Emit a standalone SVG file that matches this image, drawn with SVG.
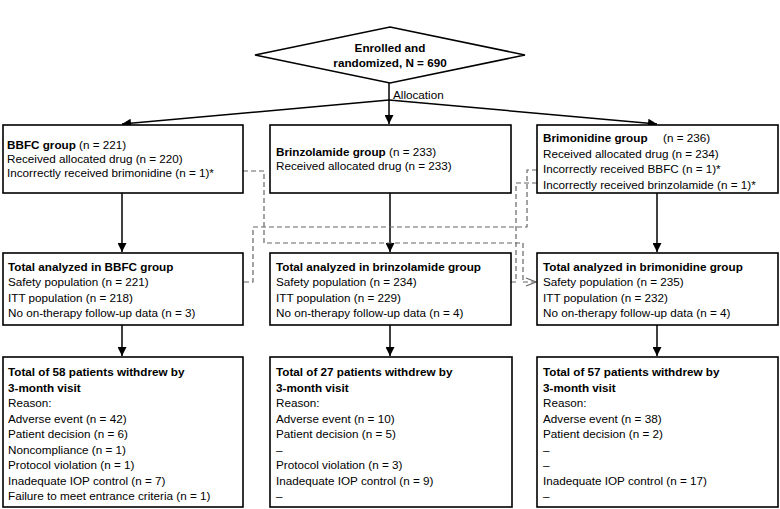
<svg xmlns="http://www.w3.org/2000/svg" width="780" height="509" viewBox="0 0 780 509">
<style>
text{font-family:"Liberation Sans",Arial,sans-serif;font-size:11.7px;fill:#000}
.b{font-weight:bold}
.box{fill:#fff;stroke:#000;stroke-width:1.6}
.arr{fill:none;stroke:#000;stroke-width:1.5;marker-end:url(#ah)}
.dash{fill:none;stroke:#666;stroke-width:1.2;stroke-dasharray:5,3}
.dashA{fill:none;stroke:#666;stroke-width:1.2;stroke-dasharray:5,3;marker-end:url(#oh)}
</style>
<defs>
<marker id="ah" viewBox="0 0 10 10" refX="10" refY="5" markerWidth="9" markerHeight="9" markerUnits="userSpaceOnUse" orient="auto"><path d="M0,0 L10,5 L0,10 z" fill="#000"/></marker>
<marker id="oh" viewBox="0 0 12 10" refX="11" refY="5" markerWidth="12" markerHeight="10" markerUnits="userSpaceOnUse" orient="auto"><path d="M1,1 L11,5 L1,9" fill="none" stroke="#666" stroke-width="1.2"/></marker>
</defs>
<rect width="780" height="509" fill="#fff"/>
<g id="connectors">
<path class="arr" d="M389,83 V124"/>
<path class="arr" d="M389,100 L122,124"/>
<path class="arr" d="M389,100 L657,124"/>
<path class="arr" d="M122,193 V252"/>
<path class="arr" d="M390,193 V252"/>
<path class="arr" d="M657,193 V252"/>
<path class="arr" d="M122,325 V356"/>
<path class="arr" d="M390,325 V356"/>
<path class="arr" d="M657,325 V356"/>
<path class="dash" d="M235,171 H264 V243 H523 V282"/>
<path class="dashA" d="M523,282 H536"/>
<path class="dash" d="M537,170 H527 V227 H253 V282 H170"/>
<path class="dashA" d="M172,282 H160"/>
<path class="dash" d="M537,183 H516 V282 H437"/>
<path class="dashA" d="M439,282 H426"/>
<text x="393" y="99">Allocation</text>
</g>
<g id="enrolled">
<polygon points="390,27 525,55 390,83 255,55" fill="#fff" stroke="#000" stroke-width="1.5"/>
<text class="b" x="390" y="52" text-anchor="middle">Enrolled and</text>
<text class="b" x="390" y="67" text-anchor="middle">randomized, N = 690</text>
</g>
<g id="bbfc-group">
<rect class="box" x="3" y="125" width="240" height="68"/>
<text x="7" y="149"><tspan class="b">BBFC group</tspan> (n = 221)</text>
<text x="7" y="163">Received allocated drug (n = 220)</text>
<text x="7" y="177">Incorrectly received brimonidine (n = 1)*</text>
</g>
<g id="brinzolamide-group">
<rect class="box" x="270" y="125" width="241" height="68"/>
<text x="276" y="156"><tspan class="b">Brinzolamide group</tspan> (n = 233)</text>
<text x="276" y="170">Received allocated drug (n = 233)</text>
</g>
<g id="brimonidine-group">
<rect class="box" x="537" y="125" width="241" height="68"/>
<text x="543" y="142" class="b">Brimonidine group</text>
<text x="663" y="142">(n = 236)</text>
<text x="543" y="157.5">Received allocated drug (n = 234)</text>
<text x="543" y="173">Incorrectly received BBFC (n = 1)*</text>
<text x="543" y="188.5">Incorrectly received brinzolamide (n = 1)*</text>
</g>
<g id="bbfc-analyzed">
<rect class="box" x="3" y="253" width="240" height="72"/>
<text class="b" x="8" y="270.5">Total analyzed in BBFC group</text>
<text x="8" y="286">Safety population (n = 221)</text>
<text x="8" y="301.5">ITT population (n = 218)</text>
<text x="8" y="317">No on-therapy follow-up data (n = 3)</text>
</g>
<g id="brinzolamide-analyzed">
<rect class="box" x="270" y="253" width="241" height="72"/>
<text class="b" x="276" y="270.5">Total analyzed in brinzolamide group</text>
<text x="276" y="286">Safety population (n = 234)</text>
<text x="276" y="301.5">ITT population (n = 229)</text>
<text x="276" y="317">No on-therapy follow-up data (n = 4)</text>
</g>
<g id="brimonidine-analyzed">
<rect class="box" x="537" y="253" width="241" height="72"/>
<text class="b" x="543" y="270.5">Total analyzed in brimonidine group</text>
<text x="543" y="286">Safety population (n = 235)</text>
<text x="543" y="301.5">ITT population (n = 232)</text>
<text x="543" y="317">No on-therapy follow-up data (n = 4)</text>
</g>
<g id="bbfc-withdrew">
<rect class="box" x="3" y="357" width="240" height="150"/>
<text class="b" x="8" y="376">Total of 58 patients withdrew by</text>
<text class="b" x="8" y="391.5">3-month visit</text>
<text x="8" y="407">Reason:</text>
<text x="8" y="422.5">Adverse event (n = 42)</text>
<text x="8" y="438">Patient decision (n = 6)</text>
<text x="8" y="453.5">Noncompliance (n = 1)</text>
<text x="8" y="469">Protocol violation (n = 1)</text>
<text x="8" y="484.5">Inadequate IOP control (n = 7)</text>
<text x="8" y="500">Failure to meet entrance criteria (n = 1)</text>
</g>
<g id="brinzolamide-withdrew">
<rect class="box" x="270" y="357" width="242" height="150"/>
<text class="b" x="276" y="376">Total of 27 patients withdrew by</text>
<text class="b" x="276" y="391.5">3-month visit</text>
<text x="276" y="407">Reason:</text>
<text x="276" y="422.5">Adverse event (n = 10)</text>
<text x="276" y="438">Patient decision (n = 5)</text>
<text x="276" y="453.5">–</text>
<text x="276" y="469">Protocol violation (n = 3)</text>
<text x="276" y="484.5">Inadequate IOP control (n = 9)</text>
<text x="276" y="500">–</text>
</g>
<g id="brimonidine-withdrew">
<rect class="box" x="537" y="357" width="241" height="150"/>
<text class="b" x="543" y="376">Total of 57 patients withdrew by</text>
<text class="b" x="543" y="391.5">3-month visit</text>
<text x="543" y="407">Reason:</text>
<text x="543" y="422.5">Adverse event (n = 38)</text>
<text x="543" y="438">Patient decision (n = 2)</text>
<text x="543" y="453.5">–</text>
<text x="543" y="469">–</text>
<text x="543" y="484.5">Inadequate IOP control (n = 17)</text>
<text x="543" y="500">–</text>
</g>
</svg>
